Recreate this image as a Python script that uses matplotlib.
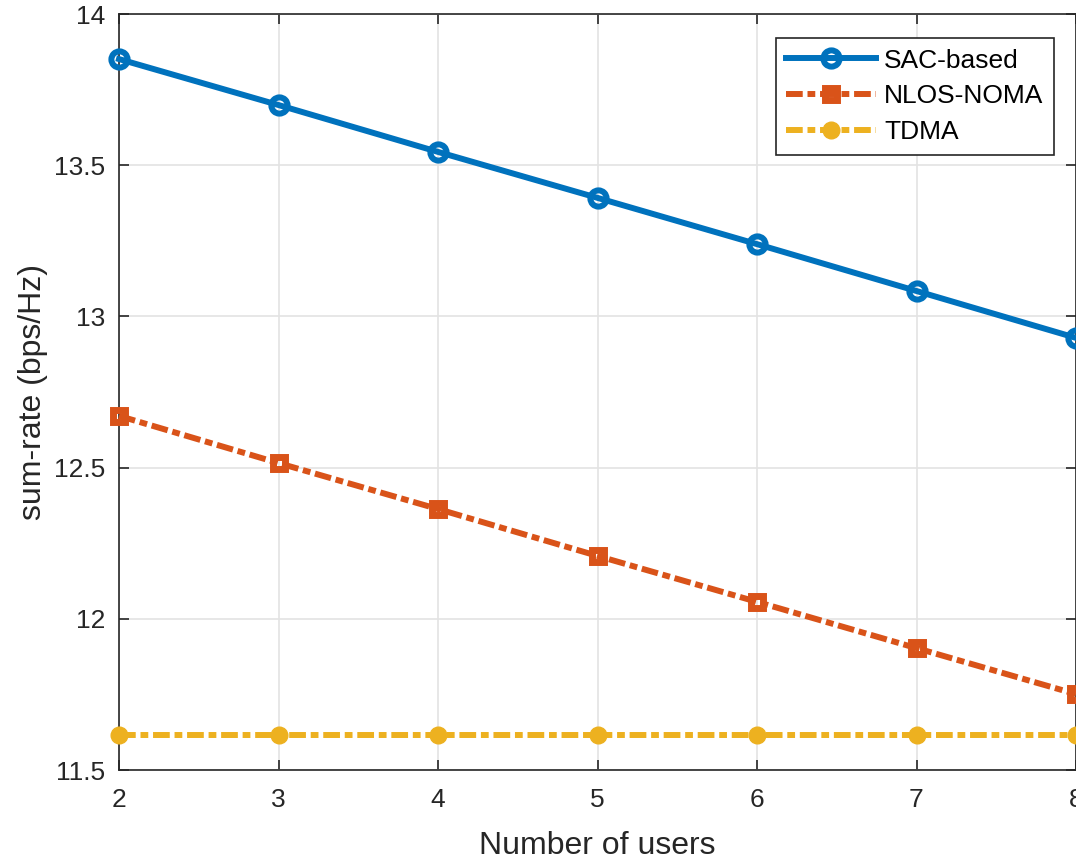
import matplotlib
matplotlib.use("Agg")
import matplotlib.pyplot as plt

users = [2, 3, 4, 5, 6, 7, 8]
sac = [13.851, 13.699, 13.544, 13.392, 13.239, 13.084, 12.929]
nlos = [12.671, 12.515, 12.363, 12.208, 12.056, 11.903, 11.751]
tdma = [11.616, 11.616, 11.616, 11.616, 11.616, 11.616, 11.616]
labels = ["SAC-based", "NLOS-NOMA", "TDMA"]

plt.rcParams['font.family'] = ['Liberation Sans', 'DejaVu Sans']

fig = plt.figure(figsize=(10.76, 8.6), dpi=100)
ax = fig.add_axes([119/1076, 90/860, (1076-119)/1076, (770-14)/860])

c1, c2, c3 = '#0072BD', '#D95319', '#EDB120'
lw = 4.3
dd = (2.8, 0.8, 1.3, 0.8)
ax.plot(users, sac, '-', color=c1, lw=lw, marker='o', ms=11.7, mfc='none', mec=c1, mew=4.3,
        label=labels[0], clip_on=False, zorder=5)
ax.plot(users, nlos, color=c2, lw=lw, dashes=dd, dash_capstyle='butt', marker='s', ms=8.5,
        mfc='none', mec=c2, mew=5, label=labels[1], clip_on=False, zorder=5)
ax.plot(users, tdma, color=c3, lw=lw, dashes=dd, dash_capstyle='butt', marker='o', ms=12,
        mfc=c3, mec=c3, mew=1, label=labels[2], clip_on=False, zorder=5)

ax.set_xlim(2, 8)
ax.set_ylim(11.5, 14)
ax.set_xticks(users)
ax.set_yticks([11.5, 12, 12.5, 13, 13.5, 14])
ax.set_yticklabels(['11.5', '12', '12.5', '13', '13.5', '14'])
ax.grid(True, color='#E3E3E3', lw=1.2)
ax.set_axisbelow(True)
for s in ax.spines.values():
    s.set_color('#262626')
    s.set_linewidth(1.2)
ax.tick_params(direction='in', length=7, width=1.2, colors='#262626', labelsize=19,
               top=True, right=True, pad=10)
ax.tick_params(axis='x', pad=13)
for t in ax.get_xticklabels() + ax.get_yticklabels():
    t.set_color('#262626')
ax.set_xlabel('Number of users', fontsize=23, color='#262626', labelpad=14)
ax.set_ylabel('sum-rate (bps/Hz)', fontsize=23, color='#262626', labelpad=4)

leg = ax.legend(loc='upper right', fontsize=19,
                frameon=True, fancybox=False, edgecolor='#262626', framealpha=1,
                handlelength=3.4, borderpad=0.4, labelspacing=0.45, handletextpad=0.3,
                borderaxespad=0)
leg.get_frame().set_linewidth(1.2)
leg.set_bbox_to_anchor(((1054-119)/(1076-119), (770-38)/(770-14)), transform=ax.transAxes)

fig.savefig('out.png', dpi=100)
